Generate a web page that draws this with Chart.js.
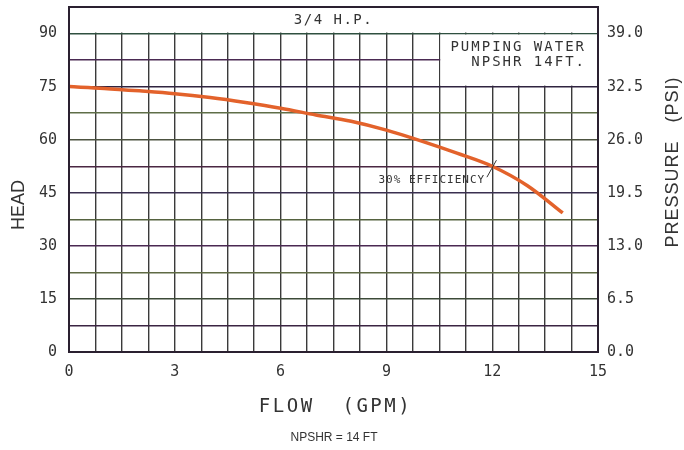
<!DOCTYPE html>
<html>
<head>
<meta charset="utf-8">
<script src="https://cdn.jsdelivr.net/npm/chart.js@4"></script>
<style>html,body{margin:0;padding:0;background:#fff}</style>
</head>
<body>
<canvas id="pumpChart" width="684" height="450"></canvas>
<script>
// pump curve: flow in GPM, head in feet
var flow = [0, 1, 2, 3, 4, 5, 6, 7, 8, 9, 10, 11, 12, 13, 14];
var head = [75, 74.5, 73.8, 73.0, 71.9, 70.5, 68.9, 67.0, 65.2, 62.7, 59.6, 56.2, 52.5, 47.0, 39.3];
var flowTicks = [0, 3, 6, 9, 12, 15];
var headTicks = [0, 15, 30, 45, 60, 75, 90];
var psiTicks = [0, 6.5, 13, 19.5, 26, 32.5, 39];

var mono = '"DejaVu Sans Mono", monospace';
var textCol = '#333';

// horizontal grid lines are slightly tinted in the scan
var hLineColors = ['#2a2233', '#3b2442', '#3c4a38', '#5f6a44', '#4a2952', '#55623f', '#3a3050',
                   '#4a2742', '#4c5240', '#5f6e48', '#302440', '#4a2a52', '#2f5040'];

function gridTicks(max, step) {
  var t = [];
  for (var v = 0; v <= max + 1e-9; v += step) t.push({value: +v.toFixed(3)});
  return t;
}

function noPad(s) {
  s.paddingTop = 0;
  s.paddingBottom = 0;
}

var overlay = {
  id: 'overlay',
  beforeDatasetsDraw: function(chart) {
    var c = chart.ctx, a = chart.chartArea, x = chart.scales.x, y = chart.scales.y;
    c.save();
    c.fillStyle = '#fff';
    // title band above 90 ft
    c.fillRect(a.left + 1, a.top + 1, a.right - a.left - 2, y.getPixelForValue(90) - a.top - 2);
    // legend box, upper right
    var bx = x.getPixelForValue(10.5), by = y.getPixelForValue(90), bb = y.getPixelForValue(75);
    c.fillRect(bx + 1, by + 1, a.right - bx - 2, bb - by - 2);
    c.restore();
  },
  afterDraw: function(chart) {
    var c = chart.ctx, a = chart.chartArea, x = chart.scales.x, y = chart.scales.y;
    c.save();
    c.strokeStyle = '#2a2030';
    c.lineWidth = 2;
    c.strokeRect(a.left, a.top, a.right - a.left, a.bottom - a.top);

    c.fillStyle = textCol;
    c.font = '14px ' + mono;
    c.letterSpacing = '1.5px';
    c.textAlign = 'center';
    c.textBaseline = 'middle';
    c.fillText('3/4 H.P.', (a.left + a.right) / 2, (a.top + y.getPixelForValue(90)) / 2);

    c.textAlign = 'right';
    c.letterSpacing = '2px';
    c.fillText('PUMPING WATER', a.right - 12, y.getPixelForValue(86.2));
    c.fillText('NPSHR 14FT.', a.right - 12, y.getPixelForValue(81.8));

    // efficiency marker
    c.font = '11px ' + mono;
    c.letterSpacing = '1px';
    c.fillText('30% EFFICIENCY', x.getPixelForValue(11.8), y.getPixelForValue(48.7));
    c.strokeStyle = '#333';
    c.lineWidth = 1;
    c.beginPath();
    c.moveTo(x.getPixelForValue(11.85), y.getPixelForValue(49.4));
    c.lineTo(x.getPixelForValue(12.12), y.getPixelForValue(54.2));
    c.stroke();

    // axis titles
    c.textAlign = 'center';
    c.font = '19px ' + mono;
    c.letterSpacing = '2.5px';
    c.fillText('FLOW  (GPM)', (a.left + a.right) / 2 + 2, 407);

    c.font = '12px "Liberation Sans", Arial, sans-serif';
    c.letterSpacing = '0px';
    c.fillText('NPSHR = 14 FT', 334, 438);

    c.font = '18px "Liberation Sans", Arial, sans-serif';
    c.translate(19, 205);
    c.rotate(-Math.PI / 2);
    c.fillText('HEAD', 0, 0);
    c.restore();

    c.save();
    c.fillStyle = textCol;
    c.font = '18px "Liberation Sans", Arial, sans-serif';
    c.letterSpacing = '1px';
    c.textAlign = 'center';
    c.textBaseline = 'middle';
    c.translate(673, 162);
    c.rotate(-Math.PI / 2);
    c.fillText('PRESSURE   (PSI)', 0, 0);
    c.restore();
  }
};

new Chart(document.getElementById('pumpChart'), {
  type: 'line',
  data: {
    datasets: [{
      data: flow.map(function(f, i) { return {x: f, y: head[i]}; }),
      borderColor: '#e3622b',
      borderWidth: 3.5,
      pointRadius: 0,
      cubicInterpolationMode: 'monotone',
      fill: false,
      yAxisID: 'y'
    }]
  },
  options: {
    responsive: false,
    animation: false,
    layout: {padding: {top: 7, left: 0, right: 0, bottom: 0}},
    plugins: {legend: {display: false}, tooltip: {enabled: false}},
    scales: {
      x: {
        type: 'linear', position: 'bottom', min: 0, max: 15,
        afterBuildTicks: function(s) { s.ticks = gridTicks(15, 0.75); },
        afterFit: function(s) { s.height = 98; },
        border: {display: false},
        grid: {color: '#3a3a3a', lineWidth: 1.4, drawTicks: false},
        ticks: {
          autoSkip: false, maxRotation: 0, padding: 11, color: textCol,
          font: {family: mono, size: 15},
          callback: function(v) { return flowTicks.indexOf(v) >= 0 ? String(v) : ''; }
        }
      },
      y: {
        position: 'left', min: 0, max: 97.5,
        afterBuildTicks: function(s) { s.ticks = gridTicks(90, 7.5); },
        afterFit: function(s) { s.width = 69; noPad(s); },
        border: {display: false},
        grid: {
          drawTicks: false, lineWidth: 1.4,
          color: function(ctx) { return hLineColors[ctx.index] || '#333'; }
        },
        ticks: {
          padding: 12, color: textCol, font: {family: mono, size: 15},
          callback: function(v) { return headTicks.indexOf(v) >= 0 ? String(v) : ''; }
        }
      },
      y2: {
        position: 'right', min: 0, max: 97.5 * 39 / 90,
        afterBuildTicks: function(s) { s.ticks = psiTicks.map(function(v) { return {value: v}; }); },
        afterFit: function(s) { s.width = 86; noPad(s); },
        border: {display: false},
        grid: {display: false, drawTicks: false},
        ticks: {
          padding: 9, color: textCol, font: {family: mono, size: 15},
          callback: function(v) { return v.toFixed(1); }
        }
      }
    }
  },
  plugins: [overlay]
});
</script>
</body>
</html>
